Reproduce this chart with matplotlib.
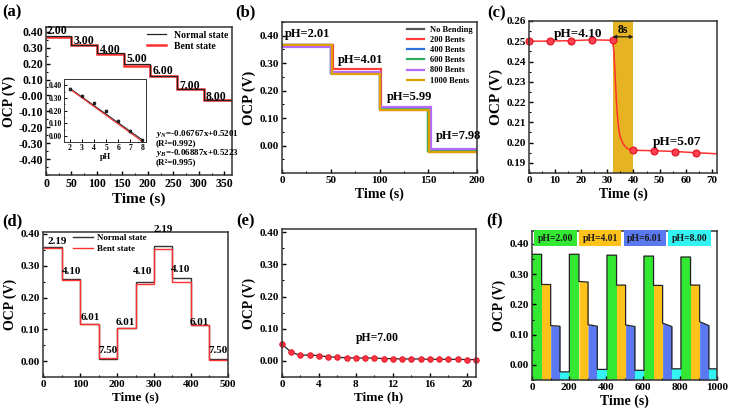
import matplotlib
matplotlib.use('Agg')
from matplotlib import pyplot as plt
from matplotlib.ticker import AutoMinorLocator, MultipleLocator, FormatStrFormatter
import numpy as np

plt.rcParams['font.family'] = 'Liberation Serif'
plt.rcParams['font.weight'] = 'bold'
plt.rcParams['axes.labelweight'] = 'bold'
plt.rcParams['mathtext.fontset'] = 'custom'
plt.rcParams['mathtext.it'] = 'Liberation Serif:italic:bold'
plt.rcParams['mathtext.rm'] = 'Liberation Serif:bold'
plt.rcParams['axes.linewidth'] = 1.1
plt.rcParams['axes.edgecolor'] = '#333333'
plt.rcParams['xtick.direction'] = 'in'
plt.rcParams['ytick.direction'] = 'in'

W, H = 734, 415

# ---- (a) pH steps, normal vs bent
a_edges = [0, 49, 101, 153, 205, 257, 310, 365]
a_normal = [0.372, 0.318, 0.265, 0.200, 0.123, 0.042, -0.027]
a_bent = [0.370, 0.315, 0.262, 0.187, 0.120, 0.038, -0.031]
a_labels = ['2.00', '3.00', '4.00', '5.00', '6.00', '7.00', '8.00']
a_label_x = [21, 75, 127, 178, 230, 281, 334]
a_label_y = [0.406, 0.345, 0.287, 0.228, 0.155, 0.062, -0.007]

# inset calibration
ph_cal = [2, 3, 4, 5, 6, 7, 8]
ocp_cal = [0.372, 0.318, 0.262, 0.195, 0.122, 0.040, -0.028]
ocp_err = [0.006, 0.004, 0.005, 0.008, 0.004, 0.005, 0.004]
fit_n = (-0.06767, 0.5201)
fit_b = (-0.06887, 0.5223)

# ---- (b) bending cycles
b_names = ['No Bending', '200 Bents', '400 Bents', '600 Bents', '800 Bents', '1000 Bents']
b_colors = ['#555555', '#ff3b3b', '#2f6fe0', '#2fae62', '#b36bff', '#e0a000']
b_edges = [[0, 50, 100, 150, 200],
           [0, 52, 102, 152, 200],
           [0, 50, 100, 151, 200],
           [0, 50, 100, 150, 200],
           [0, 50, 101, 153, 200],
           [0, 51, 101, 151, 200]]
b_levels = [[0.365, 0.265, 0.133, -0.020],
            [0.368, 0.278, 0.131, -0.022],
            [0.365, 0.264, 0.133, -0.018],
            [0.365, 0.263, 0.135, -0.020],
            [0.360, 0.267, 0.140, -0.012],
            [0.366, 0.262, 0.130, -0.025]]
b_texts = ['pH=2.01', 'pH=4.01', 'pH=5.99', 'pH=7.98']
b_text_x = [3, 57, 108, 158]
b_text_y = [0.385, 0.29, 0.155, 0.012]

# ---- (c) response time
c_t = [0, 8, 16, 24, 32, 32.5, 33, 33.5, 34, 34.5, 35, 36, 37, 38, 40, 48, 56, 64, 72]
c_v = [0.2500, 0.2501, 0.2503, 0.2507, 0.2505, 0.2450, 0.2330, 0.2200, 0.2110, 0.2056,
       0.2025, 0.1995, 0.1978, 0.1968, 0.1962, 0.1960, 0.1956, 0.1950, 0.1945]
c_mark_t = [0, 8, 16, 24, 32, 40, 48, 56, 64]
c_mark_v = [0.2500, 0.2501, 0.2503, 0.2507, 0.2505, 0.1962, 0.1960, 0.1956, 0.1950]

# ---- (d) reversibility
d_edges = [0, 50, 100, 150, 200, 250, 300, 350, 400, 450, 500]
d_normal = [0.358, 0.258, 0.118, 0.006, 0.103, 0.250, 0.362, 0.262, 0.115, 0.008]
d_bent = [0.356, 0.255, 0.118, 0.009, 0.103, 0.243, 0.352, 0.249, 0.115, 0.002]
d_labels = ['2.19', '4.10', '6.01', '7.50', '6.01', '4.10', '2.19', '4.10', '6.01', '7.50']
d_label_x = [39, 78, 127, 176, 221, 270, 324, 372, 422, 473]
d_label_y = [0.377, 0.282, 0.136, 0.032, 0.122, 0.282, 0.415, 0.2875, 0.122, 0.032]

# ---- (e) long-term stability
e_t = list(range(22))
e_v = [0.052, 0.027, 0.017, 0.019, 0.016, 0.013, 0.011, 0.010, 0.009, 0.009, 0.009,
       0.007, 0.007, 0.006, 0.006, 0.006, 0.005, 0.005, 0.005, 0.005, 0.004, 0.004]

# ---- (f) repeated cycles
f_ph = ['pH=2.00', 'pH=4.01', 'pH=6.01', 'pH=8.00']
f_colors = ['#33e833', '#ffc21a', '#5a78f0', '#33f2f2']
f_edges = [0, 52, 101, 151, 202, 254, 303, 353, 405, 457, 506, 556,
           605, 657, 706, 756, 805, 857, 906, 956, 1000]
f_start = [0.366, 0.266, 0.130, -0.023,
           0.366, 0.276, 0.133, -0.015,
           0.363, 0.264, 0.132, -0.018,
           0.360, 0.263, 0.138, -0.013,
           0.357, 0.264, 0.143, -0.013]
f_end = [0.366, 0.266, 0.128, -0.023,
         0.366, 0.274, 0.128, -0.015,
         0.363, 0.264, 0.127, -0.018,
         0.360, 0.263, 0.127, -0.013,
         0.357, 0.264, 0.130, -0.013]

fig = plt.figure(figsize=(W / 100, H / 100), dpi=100)


def axes_px(l, t, r, b):
    return fig.add_axes([l / W, 1 - b / H, (r - l) / W, (b - t) / H])


def style(ax, fs=8):
    ax.tick_params(which='major', length=3, width=1, labelsize=fs, pad=2)
    ax.tick_params(which='minor', length=1.6, width=0.8)
    ax.xaxis.set_minor_locator(AutoMinorLocator(2))
    ax.yaxis.set_minor_locator(AutoMinorLocator(2))
    ax.yaxis.set_major_formatter(FormatStrFormatter('%.2f'))


# (a)
ax = axes_px(46, 27, 232, 175)
ax.stairs(a_bent, a_edges, baseline=None, color='#ff3030', lw=1.8, label='Bent state')
ax.stairs(a_normal, a_edges, baseline=None, color='#222222', lw=0.9, label='Normal state')
for s, x, y in zip(a_labels, a_label_x, a_label_y):
    ax.text(x, y, s, fontsize=8.5, ha='center', va='center')
ax.set_xlim(0, 365)
ax.set_ylim(-0.5, 0.43)
ax.xaxis.set_major_locator(MultipleLocator(50))
ax.yaxis.set_major_locator(MultipleLocator(0.1))
style(ax, 8.5)
ax.set_yticks(np.arange(-0.4, 0.41, 0.1))
ax.set_xlabel('Time (s)', fontsize=11, labelpad=2)
ax.set_ylabel('OCP (V)', fontsize=10, labelpad=2)
h, l = ax.get_legend_handles_labels()
ax.legend(h[::-1], l[::-1], loc='upper right', fontsize=7, frameon=False,
          handlelength=2, labelspacing=0.2, borderaxespad=0.2, borderpad=0.2)
ax.text(216, -0.241, r'$y_N$=-0.06767x+0.5201', fontsize=6.5, va='center')
ax.text(216, -0.300, '(R²=0.992)', fontsize=6.5, va='center')
ax.text(216, -0.360, r'$y_B$=-0.06887x+0.5223', fontsize=6.5, va='center')
ax.text(216, -0.420, '(R²=0.995)', fontsize=6.5, va='center')

ins = axes_px(64, 79, 146, 142)
xs = np.array([2, 8])
ins.plot(xs, fit_n[0] * xs + fit_n[1] - 0.01, color='#222222', lw=0.8)
ins.plot(xs, fit_b[0] * xs + fit_b[1] - 0.015, color='#ff3030', lw=0.8)
ins.errorbar(ph_cal, ocp_cal, yerr=ocp_err, fmt='s', color='#222222', ms=1.6,
             elinewidth=0.6, capsize=0.8)
ins.set_xlim(1.5, 8.3)
ins.set_ylim(-0.047, 0.45)
ins.set_xticks(ph_cal)
ins.set_yticks([0.0, 0.1, 0.2, 0.3, 0.4])
ins.tick_params(which='major', length=2, width=0.7, labelsize=5.5, pad=1.5)
ins.tick_params(which='minor', length=1, width=0.5)
ins.yaxis.set_minor_locator(AutoMinorLocator(2))
ins.yaxis.set_major_formatter(FormatStrFormatter('%.2f'))
for sp in ins.spines.values():
    sp.set_linewidth(0.7)
ins.set_xlabel('pH', fontsize=6, labelpad=1)

# (b)
ax = axes_px(282, 22, 477, 173)
for name, col, ed, lv in zip(b_names, b_colors, b_edges, b_levels):
    ax.stairs(lv, ed, baseline=None, color=col, lw=1.6, label=name)
for s, x, y in zip(b_texts, b_text_x, b_text_y):
    ax.text(x, y, s, fontsize=9, ha='left', va='bottom')
ax.set_xlim(0, 200)
ax.set_ylim(-0.1, 0.45)
ax.xaxis.set_major_locator(MultipleLocator(50))
ax.set_yticks([0.0, 0.1, 0.2, 0.3, 0.4])
style(ax, 8)
ax.set_xlabel('Time (s)', fontsize=10, labelpad=2)
ax.set_ylabel('OCP (V)', fontsize=10.5, labelpad=3)
ax.legend(loc='upper right', fontsize=6, frameon=False, handlelength=2,
          labelspacing=0.25, borderaxespad=0.3, borderpad=0.2)

# (c)
ax = axes_px(529, 21, 717, 173)
ax.axvspan(32, 40, color='#e6b422', lw=0)
ax.plot(c_t, c_v, color='#ff3030', lw=1.1)
ax.plot(c_mark_t, c_mark_v, 'o', ms=5, mfc='#ff4050', mec='#e01020', mew=0.8, clip_on=False)
ax.annotate('', xy=(40, 0.2522), xytext=(32, 0.2522),
            arrowprops=dict(arrowstyle='<|-|>', color='#222222', lw=0.9,
                            mutation_scale=5, shrinkA=0, shrinkB=0))
ax.text(36, 0.2527, '8s', fontsize=8.5, ha='center', va='bottom')
ax.text(9.5, 0.2506, 'pH=4.10', fontsize=9.5, ha='left', va='bottom')
ax.text(47.5, 0.1972, 'pH=5.07', fontsize=9.5, ha='left', va='bottom')
ax.set_xlim(0, 72)
ax.set_ylim(0.185, 0.26)
ax.xaxis.set_major_locator(MultipleLocator(10))
ax.yaxis.set_major_locator(MultipleLocator(0.01))
style(ax, 8)
ax.set_xlabel('Time (s)', fontsize=10, labelpad=2)
ax.set_ylabel('OCP (V)', fontsize=11, labelpad=3)

# (d)
ax = axes_px(43, 232, 228, 377)
ax.stairs(d_normal, d_edges, baseline=None, color='#333333', lw=1.0, label='Normal state')
ax.stairs(d_bent, d_edges, baseline=None, color='#ff3030', lw=1.0, label='Bent state')
for s, x, y in zip(d_labels, d_label_x, d_label_y):
    ax.text(x, y, s, fontsize=8, ha='center', va='center')
ax.set_xlim(0, 500)
ax.set_ylim(-0.05, 0.406)
ax.xaxis.set_major_locator(MultipleLocator(100))
ax.set_yticks([0.0, 0.1, 0.2, 0.3, 0.4])
style(ax, 8)
ax.set_xlabel('Time (s)', fontsize=9.5, labelpad=2)
ax.set_ylabel('OCP (V)', fontsize=10, labelpad=3)
ax.legend(loc='upper left', bbox_to_anchor=(0.15, 1.0), fontsize=6.5, frameon=False,
          handlelength=2.3, handletextpad=0.4, labelspacing=0.3, borderaxespad=0,
          borderpad=0.2)

# (e)
ax = axes_px(282, 229, 476, 377)
ax.plot(e_t, e_v, color='#222222', lw=0.9)
ax.plot(e_t, e_v, 'o', ms=4, mfc='#ff3344', mec='#e01020', mew=0.6, clip_on=False)
ax.text(10.3, 0.071, 'pH=7.00', fontsize=8.5, ha='center', va='center')
ax.set_xlim(0, 21)
ax.set_ylim(-0.05, 0.41)
ax.xaxis.set_major_locator(MultipleLocator(4))
ax.set_yticks([0.0, 0.1, 0.2, 0.3, 0.4])
style(ax, 8)
ax.set_xlabel('Time (h)', fontsize=9.5, labelpad=2)
ax.set_ylabel('OCP (V)', fontsize=10, labelpad=3)

# (f)
ax = axes_px(532, 231, 717, 380)
base = -0.05
tx, ty = [], []
for i in range(len(f_start)):
    x0, x1 = f_edges[i], f_edges[i + 1]
    ax.fill_between([x0, x1], [f_start[i], f_end[i]], base, color=f_colors[i % 4], lw=0)
    tx += [x0, x1]
    ty += [f_start[i], f_end[i]]
ax.plot(tx, ty, color='#222222', lw=0.9)
for i, (s, col) in enumerate(zip(f_ph, f_colors)):
    ax.text(0.127 + 0.2415 * i, 0.952, s, transform=ax.transAxes, fontsize=7,
            ha='center', va='center', color='#1a1a1a',
            bbox=dict(boxstyle='square,pad=0.35', fc=col, ec='none'))
ax.set_xlim(0, 1000)
ax.set_ylim(base, 0.443)
ax.xaxis.set_major_locator(MultipleLocator(200))
ax.set_yticks([0.0, 0.1, 0.2, 0.3, 0.4])
style(ax, 8)
ax.set_xlabel('Time (s)', fontsize=10, labelpad=2)
ax.set_ylabel('OCP (V)', fontsize=10, labelpad=3)

# panel letters
for s, x, y in [('(a)', 2, 12), ('(b)', 235, 12), ('(c)', 487, 13),
                ('(d)', 2, 221), ('(e)', 236, 221), ('(f)', 486, 220)]:
    fig.text(x / W, 1 - y / H, s, fontsize=12, fontweight='bold', va='center', ha='left')

fig.savefig('out.png', dpi=100)
